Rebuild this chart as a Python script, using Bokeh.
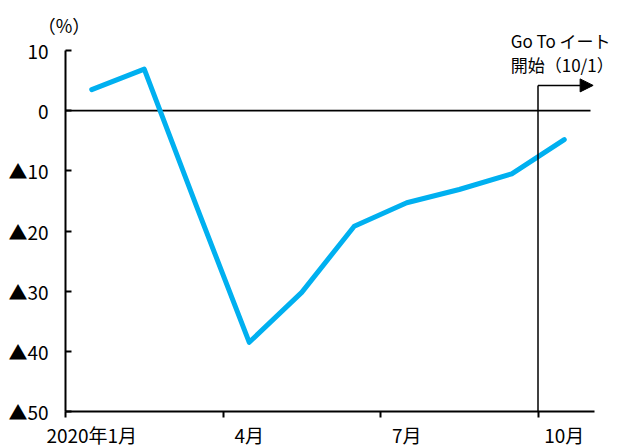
from bokeh.plotting import figure
from bokeh.models import FixedTicker, Label, Arrow, NormalHead, Range1d
from bokeh.embed import file_html
from bokeh.resources import INLINE

# Data
months = [1, 2, 3, 4, 5, 6, 7, 8, 9, 10]
values = [3.5, 6.9, -16.0, -38.5, -30.2, -19.2, -15.3, -13.1, -10.5, -4.8]
y_ticks = [10, 0, -10, -20, -30, -40, -50]
y_tick_labels = ["10", "0", "▲10", "▲20", "▲30", "▲40", "▲50"]
x_label_pos = [1, 4, 7, 10]
x_tick_labels = ["2020年1月", "4月", "7月", "10月"]
quarter_bounds = [0.5, 3.5, 6.5, 9.5]
goto_month = 9.5
annot_lines = ["Go To イート", "開始（10/1）"]
unit_label = "（%）"

FONT = "Noto Sans CJK JP"

# Layout (pixels) -> ranges so the frame spans the whole canvas
W, H = 622, 448
px_left, px_right, px_top, px_bottom = 65, 590, 50, 411
x_lo, x_hi = 0.5, 10.5
y_lo, y_hi = -50, 10
sx = (px_right - px_left) / (x_hi - x_lo)
sy = (px_bottom - px_top) / (y_hi - y_lo)
xr = Range1d(x_lo - px_left / sx, x_hi + (W - px_right) / sx)
yr = Range1d(y_lo - (H - px_bottom) / sy, y_hi + px_top / sy)

p = figure(width=W, height=H, x_range=xr, y_range=yr,
           output_backend="svg", toolbar_location=None,
           min_border=0, min_border_left=0, min_border_right=0,
           min_border_top=0, min_border_bottom=0)
p.outline_line_color = None
p.grid.visible = False
p.background_fill_color = "white"
p.border_fill_color = "white"

# x axis
xa = p.xaxis[0]
xa.fixed_location = y_lo
xa.bounds = (x_lo, x_hi + 0.07)
xa.ticker = FixedTicker(ticks=x_label_pos, minor_ticks=quarter_bounds)
xa.major_label_overrides = {k: v for k, v in zip(x_label_pos, x_tick_labels)}
xa.major_tick_line_color = None
xa.major_tick_in = 0
xa.major_tick_out = 0
xa.minor_tick_in = 0
xa.minor_tick_out = 6
xa.minor_tick_line_color = "black"
xa.minor_tick_line_width = 2
xa.axis_line_width = 2
xa.axis_line_color = "black"
xa.major_label_text_font = FONT
xa.major_label_text_font_size = "19px"
xa.major_label_text_color = "black"
xa.major_label_standoff = 3

# y axis
ya = p.yaxis[0]
ya.fixed_location = x_lo
ya.bounds = (y_lo, y_hi)
ya.ticker = FixedTicker(ticks=y_ticks)
ya.major_label_overrides = {k: v for k, v in zip(y_ticks, y_tick_labels)}
ya.major_tick_in = 6
ya.major_tick_out = 0
ya.major_tick_line_width = 2
ya.major_tick_line_color = "black"
ya.minor_tick_line_color = None
ya.axis_line_width = 2
ya.axis_line_color = "black"
ya.major_label_text_font = FONT
ya.major_label_text_font_size = "19px"
ya.major_label_text_color = "black"
ya.major_label_standoff = 17

# zero line
p.line([x_lo, x_hi], [0, 0], line_color="black", line_width=1.8)

# data line
p.line(months, values, line_color="#00B0F0", line_width=5, line_join="round", line_cap="round")

# Go To marker
arrow_y = 4.2
p.line([goto_month, goto_month], [y_lo, arrow_y], line_color="black", line_width=1.5)
p.add_layout(Arrow(x_start=goto_month, y_start=arrow_y, x_end=10.55, y_end=arrow_y,
                   line_color="black", line_width=1.5,
                   end=NormalHead(size=13, fill_color="black", line_color="black")))

p.add_layout(Label(x=8.98, y=11.6, text=annot_lines[0], text_font=FONT, text_font_size="17px",
                   text_baseline="middle", text_color="black"))
p.add_layout(Label(x=8.98, y=7.6, text=annot_lines[1], text_font=FONT, text_font_size="17px",
                   text_baseline="middle", text_color="black"))
p.add_layout(Label(x=-0.03, y=14.3, text=unit_label, text_font=FONT, text_font_size="18px",
                   text_baseline="middle", text_color="black"))

open("out.html", "w").write(file_html(p, INLINE))
